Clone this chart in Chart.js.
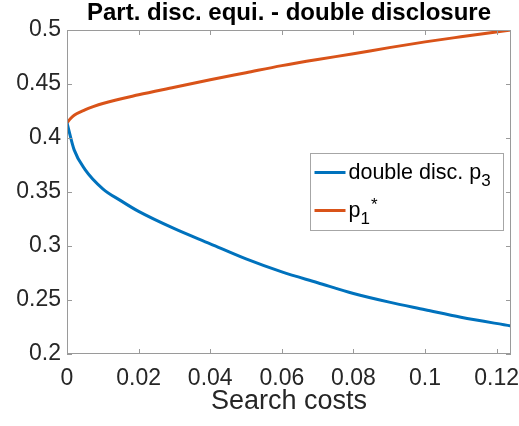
<!DOCTYPE html>
<html>
<head>
<meta charset="utf-8">
<script src="https://cdn.jsdelivr.net/npm/chart.js@4.4.1/dist/chart.umd.min.js"></script>
<style>
html, body { margin: 0; padding: 0; background: #fff; }
#wrap { width: 519px; height: 426px; position: relative; }
</style>
</head>
<body>
<div id="wrap"><canvas id="plot"></canvas></div>
<script>
// values
var costsBlue = [0, 0.002, 0.005, 0.01, 0.015, 0.02, 0.03, 0.04, 0.05, 0.06, 0.07, 0.08, 0.09, 0.1, 0.11, 0.124];
var priceBlue = [0.414, 0.389, 0.371, 0.353, 0.342, 0.332, 0.316, 0.302, 0.288, 0.276, 0.266, 0.256, 0.248, 0.241, 0.234, 0.226];
var costsOrange = [0, 0.001, 0.002, 0.005, 0.0073, 0.01, 0.02, 0.03, 0.04, 0.05, 0.06, 0.07, 0.08, 0.09, 0.1, 0.11, 0.124];
var priceOrange = [0.414, 0.418, 0.421, 0.426, 0.429, 0.432, 0.440, 0.447, 0.454, 0.4605, 0.467, 0.4727, 0.478, 0.4837, 0.489, 0.4937, 0.500];
var xTicks = [0, 0.02, 0.04, 0.06, 0.08, 0.1, 0.12];
var yTicks = [0.2, 0.25, 0.3, 0.35, 0.4, 0.45, 0.5];
var seriesNames = ['double disc. p_3', 'p_1^*'];
var seriesColors = ['#0072BD', '#D95319'];

var fontFam = '"Liberation Sans", Arial, Helvetica, sans-serif';
Chart.defaults.font.family = fontFam;

function fmt(v) {
    return String(parseFloat(v.toFixed(4)));
}

function toPoints(xs, ys) {
    return xs.map((x, i) => ({ x: x, y: ys[i] }));
}

// draws "text_sub^sup" like matlab's tex interpreter
function drawTex(ctx, label, x, y, size) {
    var m = label.match(/^(.*?)(?:_(\w))?(?:\^(\S))?$/);
    ctx.textBaseline = 'alphabetic';
    ctx.textAlign = 'left';
    ctx.font = size + 'px ' + fontFam;
    ctx.fillText(m[1], x, y);
    x += ctx.measureText(m[1]).width;
    var small = Math.round(size * 0.8);
    ctx.font = small + 'px ' + fontFam;
    if (m[2]) {
        ctx.fillText(m[2], x, y + 7);
        x += ctx.measureText(m[2]).width;
    }
    if (m[3]) {
        ctx.fillText(m[3], x + 1, y - 7);
    }
}

const matlabAxes = {
    id: 'matlabAxes',
    afterDraw(chart) {
        const ctx = chart.ctx;
        const a = chart.chartArea;
        const sx = chart.scales.x, sy = chart.scales.y;
        ctx.save();
        ctx.strokeStyle = '#9a9a9a';
        ctx.lineWidth = 1;
        ctx.strokeRect(a.left + 0.5, a.top + 0.5, a.right - a.left - 1, a.bottom - a.top - 1);
        ctx.beginPath();
        xTicks.forEach(v => {
            const px = Math.round(sx.getPixelForValue(v)) + 0.5;
            ctx.moveTo(px, a.bottom); ctx.lineTo(px, a.bottom - 5);
            ctx.moveTo(px, a.top); ctx.lineTo(px, a.top + 5);
        });
        yTicks.forEach(v => {
            const py = Math.round(sy.getPixelForValue(v)) + 0.5;
            ctx.moveTo(a.left, py); ctx.lineTo(a.left + 5, py);
            ctx.moveTo(a.right, py); ctx.lineTo(a.right - 5, py);
        });
        ctx.stroke();

        // legend box
        const bw = 193, bh = 77;
        const bx = Math.round(a.right - 8 - bw) + 0.5;
        const by = Math.round(a.top + 123) + 0.5;
        ctx.fillStyle = '#fff';
        ctx.fillRect(bx, by, bw, bh);
        ctx.strokeStyle = '#a6a6a6';
        ctx.strokeRect(bx, by, bw, bh);
        const rows = [19, 57];
        seriesNames.forEach((name, i) => {
            const ly = by + rows[i];
            ctx.strokeStyle = seriesColors[i];
            ctx.lineWidth = 3;
            ctx.beginPath();
            ctx.moveTo(bx + 4, ly); ctx.lineTo(bx + 35, ly);
            ctx.stroke();
            ctx.fillStyle = '#000';
            drawTex(ctx, name, bx + 38, ly + 6, 21.5);
        });
        ctx.restore();
    }
};

const chart = new Chart(document.getElementById('plot'), {
    type: 'line',
    data: {
        datasets: [{
            label: seriesNames[0],
            data: toPoints(costsBlue, priceBlue),
            borderColor: seriesColors[0],
            borderWidth: 3,
            pointRadius: 0,
            cubicInterpolationMode: 'monotone',
            fill: false
        }, {
            label: seriesNames[1],
            data: toPoints(costsOrange, priceOrange),
            borderColor: seriesColors[1],
            borderWidth: 3,
            pointRadius: 0,
            cubicInterpolationMode: 'monotone',
            fill: false
        }]
    },
    options: {
        responsive: true,
        maintainAspectRatio: false,
        animation: false,
        devicePixelRatio: 1,
        layout: { padding: { left: 0, right: 8, top: 0, bottom: 0 } },
        plugins: {
            legend: { display: false },
            tooltip: { enabled: false },
            title: {
                display: true,
                fullSize: false,
                text: 'Part. disc. equi. - double disclosure',
                color: '#000',
                font: { size: 24, weight: 'bold', lineHeight: 1.1 },
                padding: { top: 0, bottom: 3.6 }
            }
        },
        scales: {
            x: {
                type: 'linear',
                min: 0,
                max: 0.124,
                afterBuildTicks: s => { s.ticks = xTicks.map(v => ({ value: v })); },
                afterFit: s => { s.height = 72; s.paddingLeft = 0; s.paddingRight = 0; },
                ticks: {
                    callback: v => fmt(v),
                    color: '#262626',
                    font: { size: 23 },
                    padding: 11,
                    maxRotation: 0,
                    autoSkip: false
                },
                grid: { display: false, drawTicks: false },
                border: { display: false },
                title: {
                    display: true,
                    text: 'Search costs',
                    color: '#262626',
                    font: { size: 27 },
                    padding: { top: 0, bottom: 8 }
                }
            },
            y: {
                type: 'linear',
                min: 0.2,
                max: 0.5,
                afterBuildTicks: s => { s.ticks = yTicks.map(v => ({ value: v })); },
                afterFit: s => { s.width = 67; s.paddingTop = 0; s.paddingBottom = 0; },
                ticks: {
                    callback: v => fmt(v),
                    color: '#262626',
                    font: { size: 23 },
                    padding: 6,
                    autoSkip: false
                },
                grid: { display: false, drawTicks: false },
                border: { display: false }
            }
        }
    },
    plugins: [matlabAxes]
});
</script>
</body>
</html>
